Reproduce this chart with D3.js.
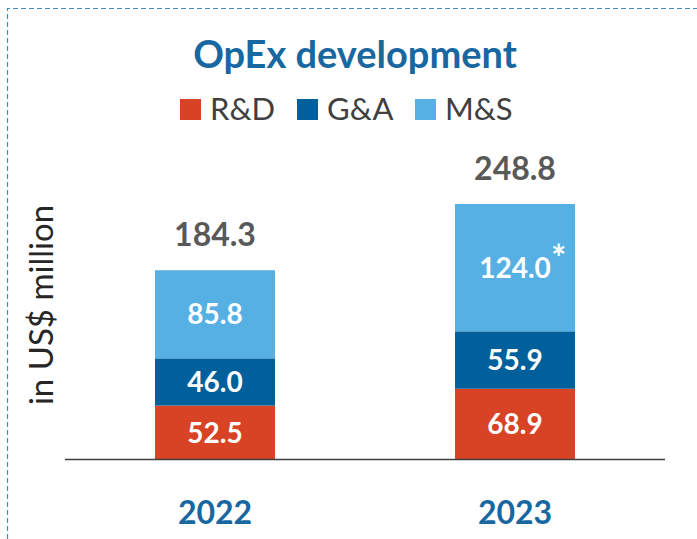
<!DOCTYPE html>
<html><head><meta charset="utf-8">
<script src="https://cdn.jsdelivr.net/npm/d3@7"></script>
<style>html,body{margin:0;padding:0;background:#fff;}svg{display:block;}</style>
</head><body>
<script>
const years = ["2022", "2023"];
const seriesNames = ["R&D", "G&A", "M&S"];
const rd = [52.5, 68.9];
const ga = [46.0, 55.9];
const ms = [85.8, 124.0];
const totals = [184.3, 248.8];
const msNote = ["", "*"];
const colors = ["#d84225", "#00609c", "#56b0e3"];

const W = 697, H = 539;
const svg = d3.select("body").append("svg").attr("width", W).attr("height", H);
const font = "Lato, 'Open Sans', sans-serif";

// dashed frame
svg.append("path").attr("d", `M7.5,${H} L7.5,8.5 L${W},8.5`)
  .attr("fill", "none").attr("stroke", "#3d8fc8").attr("stroke-width", 1.2)
  .attr("stroke-dasharray", "5,3");

// title
svg.append("text").attr("x", 355).attr("y", 68).attr("text-anchor", "middle")
  .attr("font-family", font).attr("font-weight", 700).attr("font-size", 38)
  .attr("fill", "#1867a1").text("OpEx development");

// legend
const legendX = [180, 297, 415];
seriesNames.forEach((n, i) => {
  const g = svg.append("g");
  g.append("rect").attr("x", legendX[i]).attr("y", 99).attr("width", 21).attr("height", 21).attr("fill", colors[i]);
  g.append("text").attr("x", legendX[i] + 30).attr("y", 120)
    .attr("font-family", font).attr("font-size", 31).attr("fill", "#404040").text(n);
});

const x = d3.scaleBand().domain(years).range([65, 665]).paddingInner(0.6).paddingOuter(0.3);
const y = d3.scaleLinear().domain([0, 248.8]).range([459.5, 204]);

const data = years.map((yr, i) => ({year: yr, rd: rd[i], ga: ga[i], ms: ms[i]}));
const stack = d3.stack().keys(["rd", "ga", "ms"])(data);

stack.forEach((layer, li) => {
  svg.append("g").selectAll("rect").data(layer).join("rect")
    .attr("x", d => x(d.data.year))
    .attr("width", x.bandwidth())
    .attr("y", d => y(d[1]))
    .attr("height", d => y(d[0]) - y(d[1]))
    .attr("fill", colors[li]);
  svg.append("g").selectAll("text").data(layer).join("text")
    .attr("x", d => x(d.data.year) + x.bandwidth() / 2)
    .attr("y", d => (y(d[0]) + y(d[1])) / 2 + 10)
    .attr("text-anchor", "middle")
    .attr("font-family", font).attr("font-weight", 700).attr("font-size", 28)
    .attr("fill", "#fff")
    .text((d, i) => d3.format(".1f")(d[1] - d[0]));
});

// asterisk note
const msLayer = stack[2];
msLayer.forEach((d, i) => {
  if (msNote[i]) {
    svg.append("text")
      .attr("x", x(d.data.year) + x.bandwidth() / 2 + 36)
      .attr("y", (y(d[0]) + y(d[1])) / 2 + 3)
      .attr("font-family", font).attr("font-weight", 700).attr("font-size", 36)
      .attr("fill", "#fff").text(msNote[i]);
  }
});

// totals
svg.append("g").selectAll("text").data(totals).join("text")
  .attr("x", (d, i) => x(years[i]) + x.bandwidth() / 2)
  .attr("y", d => y(d) - 24)
  .attr("text-anchor", "middle")
  .attr("font-family", font).attr("font-weight", 700).attr("font-size", 32)
  .attr("fill", "#595959").text(d => d3.format(".1f")(d));

// baseline axis
const axis = svg.append("g").attr("transform", `translate(0,${y(0)})`)
  .call(d3.axisBottom(x).tickSize(0).tickPadding(42));
axis.select(".domain").attr("d", "M65,0H665").attr("stroke", "#404040").attr("stroke-width", 1.5);
axis.selectAll(".tick text").attr("font-family", font).attr("font-weight", 700)
  .attr("font-size", 32).attr("fill", "#1867a1").attr("dy", 0).attr("y", 64);

// y label
svg.append("text").attr("transform", "translate(53,305) rotate(-90)")
  .attr("text-anchor", "middle").attr("font-family", font).attr("font-size", 33)
  .attr("fill", "#262626").text("in US$ million");
</script>
</body></html>
